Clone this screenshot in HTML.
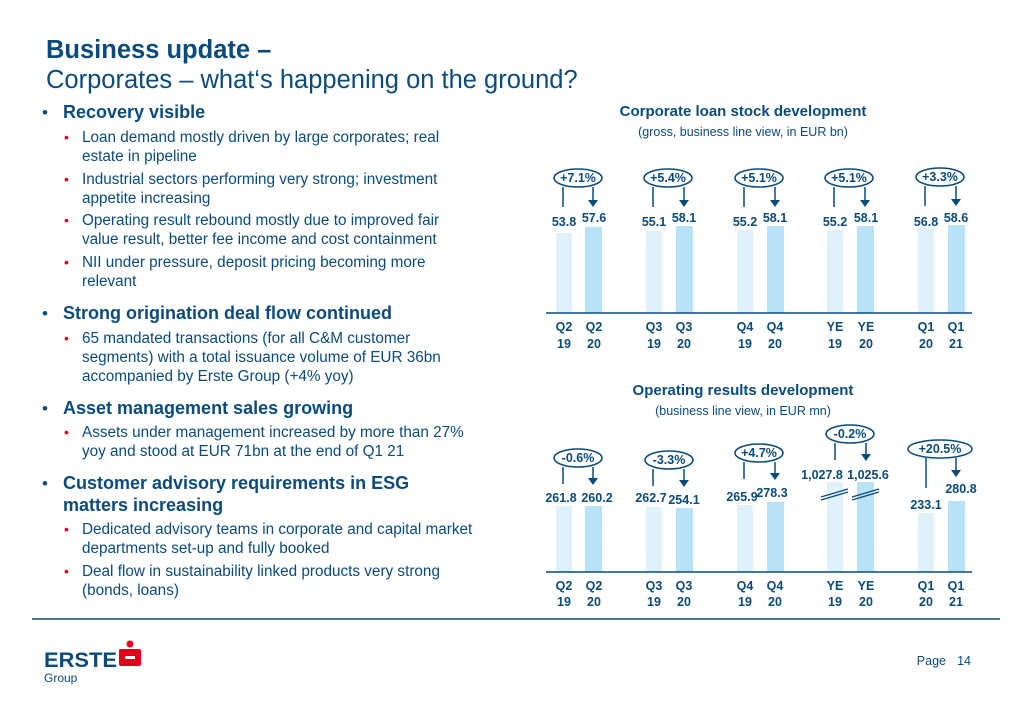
<!DOCTYPE html>
<html><head><meta charset="utf-8"><style>
body{margin:0;background:#fff}
svg{display:block;font-family:"Liberation Sans",Arial,sans-serif}
</style></head><body>
<svg width="1024" height="709" viewBox="0 0 1024 709" xmlns="http://www.w3.org/2000/svg">
<g fill="#0b4a7d">
<text x="46" y="58" font-size="25.5" font-weight="bold">Business update –</text>
<text x="46" y="88" font-size="25.5">Corporates – what‘s happening on the ground?</text>
<g font-size="18" font-weight="bold">
<text x="63" y="118">Recovery visible</text>
<text x="63" y="319">Strong origination deal flow continued</text>
<text x="63" y="414">Asset management sales growing</text>
<text x="63" y="489">Customer advisory requirements in ESG</text>
<text x="63" y="511">matters increasing</text>
</g>
<g font-size="17"><text x="42" y="118">•</text><text x="42" y="319">•</text><text x="42" y="414">•</text><text x="42" y="489">•</text></g>
<g font-size="15.3">
<text x="82" y="142">Loan demand mostly driven by large corporates; real</text>
<text x="82" y="161">estate in pipeline</text>
<text x="82" y="184">Industrial sectors performing very strong; investment</text>
<text x="82" y="203">appetite increasing</text>
<text x="82" y="225">Operating result rebound mostly due to improved fair</text>
<text x="82" y="244">value result, better fee income and cost containment</text>
<text x="82" y="267">NII under pressure, deposit pricing becoming more</text>
<text x="82" y="286">relevant</text>
<text x="82" y="343">65 mandated transactions (for all C&amp;M customer</text>
<text x="82" y="362">segments) with a total issuance volume of EUR 36bn</text>
<text x="82" y="381">accompanied by Erste Group (+4% yoy)</text>
<text x="82" y="437">Assets under management increased by more than 27%</text>
<text x="82" y="456">yoy and stood at EUR 71bn at the end of Q1 21</text>
<text x="82" y="534">Dedicated advisory teams in corporate and capital market</text>
<text x="82" y="553">departments set-up and fully booked</text>
<text x="82" y="576">Deal flow in sustainability linked products very strong</text>
<text x="82" y="595">(bonds, loans)</text>
</g>
</g>
<g fill="#e2001a" font-size="14"><text x="64" y="142">•</text><text x="64" y="184">•</text><text x="64" y="225">•</text><text x="64" y="267">•</text><text x="64" y="343">•</text><text x="64" y="437">•</text><text x="64" y="534">•</text><text x="64" y="576">•</text></g>

<g fill="#0b4a7d" text-anchor="middle">
<text x="743" y="116" font-size="15" font-weight="bold">Corporate loan stock development</text>
<text x="743" y="136" font-size="12.5">(gross, business line view, in EUR bn)</text>
<text x="743" y="395" font-size="15" font-weight="bold">Operating results development</text>
<text x="743" y="415" font-size="12.5">(business line view, in EUR mn)</text>
</g>

<g>
<rect x="556" y="233" width="16" height="80" fill="#dff1fb"/><rect x="585" y="227" width="17" height="86" fill="#b8e2f6"/>
<rect x="646" y="231" width="16" height="82" fill="#dff1fb"/><rect x="676" y="226" width="17" height="87" fill="#b8e2f6"/>
<rect x="737" y="230" width="16" height="83" fill="#dff1fb"/><rect x="767" y="226" width="17" height="87" fill="#b8e2f6"/>
<rect x="827" y="230" width="16" height="83" fill="#dff1fb"/><rect x="857" y="226" width="17" height="87" fill="#b8e2f6"/>
<rect x="918" y="228" width="16" height="85" fill="#dff1fb"/><rect x="948" y="225" width="17" height="88" fill="#b8e2f6"/>
<line x1="546" y1="313" x2="972" y2="313" stroke="#0b4a7d" stroke-width="1.5"/>
</g>
<g fill="#0b4a7d" font-size="12.5" font-weight="bold" text-anchor="middle">
<text x="564" y="226">53.8</text><text x="594" y="222">57.6</text>
<text x="654" y="226">55.1</text><text x="684" y="222">58.1</text>
<text x="745" y="226">55.2</text><text x="775" y="222">58.1</text>
<text x="835" y="226">55.2</text><text x="866" y="222">58.1</text>
<text x="926" y="226">56.8</text><text x="956" y="222">58.6</text>
<g font-size="12.5">
<text x="564" y="331">Q2</text><text x="594" y="331">Q2</text><text x="564" y="348">19</text><text x="594" y="348">20</text>
<text x="654" y="331">Q3</text><text x="684" y="331">Q3</text><text x="654" y="348">19</text><text x="684" y="348">20</text>
<text x="745" y="331">Q4</text><text x="775" y="331">Q4</text><text x="745" y="348">19</text><text x="775" y="348">20</text>
<text x="835" y="331">YE</text><text x="866" y="331">YE</text><text x="835" y="348">19</text><text x="866" y="348">20</text>
<text x="926" y="331">Q1</text><text x="956" y="331">Q1</text><text x="926" y="348">20</text><text x="956" y="348">21</text>
</g>
</g>
<g fill="none" stroke="#0b4a7d" stroke-width="1.5">
<ellipse cx="578" cy="178" rx="24" ry="9"/><ellipse cx="668" cy="178" rx="24" ry="9"/><ellipse cx="759" cy="178" rx="24" ry="9"/><ellipse cx="849" cy="178" rx="24" ry="9"/><ellipse cx="940" cy="177" rx="24" ry="9"/>
<path d="M563 187V207M593 187V200M653 187V207M684 187V200M744 187V207M775 187V200M834 187V207M865 187V200M925 186V206M956 186V199"/>
</g>
<g fill="#0b4a7d">
<path d="M588 200h10l-5 7zM679 200h10l-5 7zM770 200h10l-5 7zM860 200h10l-5 7zM951 199h10l-5 7z"/>
<g font-size="12.5" font-weight="bold" text-anchor="middle"><text x="578" y="182">+7.1%</text><text x="668" y="182">+5.4%</text><text x="759" y="182">+5.1%</text><text x="849" y="182">+5.1%</text><text x="940" y="181">+3.3%</text></g>
</g>

<g>
<rect x="556" y="506" width="16" height="66" fill="#dff1fb"/><rect x="585" y="506" width="17" height="66" fill="#b8e2f6"/>
<rect x="646" y="507" width="16" height="65" fill="#dff1fb"/><rect x="676" y="508" width="17" height="64" fill="#b8e2f6"/>
<rect x="737" y="505" width="16" height="67" fill="#dff1fb"/><rect x="767" y="502" width="17" height="70" fill="#b8e2f6"/>
<rect x="827" y="482" width="16" height="90" fill="#dff1fb"/><rect x="857" y="482" width="17" height="90" fill="#b8e2f6"/>
<rect x="918" y="513" width="16" height="59" fill="#dff1fb"/><rect x="948" y="501" width="17" height="71" fill="#b8e2f6"/>
<line x1="546" y1="572" x2="972" y2="572" stroke="#0b4a7d" stroke-width="1.5"/>
<path d="M821 497L848 489M821 500L848 492M852 497L879 489M852 500L879 492" stroke="#0b4a7d" stroke-width="1.2"/>
</g>
<g fill="#0b4a7d" font-size="12.5" font-weight="bold" text-anchor="middle">
<text x="561" y="502">261.8</text><text x="597" y="502">260.2</text>
<text x="651" y="502">262.7</text><text x="684" y="504">254.1</text>
<text x="742" y="501">265.9</text><text x="772" y="497">278.3</text>
<text x="822" y="479">1,027.8</text><text x="868" y="479">1,025.6</text>
<text x="926" y="509">233.1</text><text x="961" y="493">280.8</text>
<text x="564" y="590">Q2</text><text x="594" y="590">Q2</text><text x="564" y="606">19</text><text x="594" y="606">20</text>
<text x="654" y="590">Q3</text><text x="684" y="590">Q3</text><text x="654" y="606">19</text><text x="684" y="606">20</text>
<text x="745" y="590">Q4</text><text x="775" y="590">Q4</text><text x="745" y="606">19</text><text x="775" y="606">20</text>
<text x="835" y="590">YE</text><text x="866" y="590">YE</text><text x="835" y="606">19</text><text x="866" y="606">20</text>
<text x="926" y="590">Q1</text><text x="956" y="590">Q1</text><text x="926" y="606">20</text><text x="956" y="606">21</text>
</g>
<g fill="none" stroke="#0b4a7d" stroke-width="1.5">
<ellipse cx="578" cy="458" rx="24" ry="9"/><ellipse cx="669" cy="460" rx="24" ry="9"/><ellipse cx="759" cy="453" rx="24" ry="9"/><ellipse cx="850" cy="434" rx="24" ry="9"/><ellipse cx="940" cy="449" rx="32" ry="9"/>
<path d="M563 467V484M593 467V478M653 469V486M684 469V480M744 462V479M775 462V473M835 443V460M866 443V454M926 458V488M956 458V470"/>
</g>
<g fill="#0b4a7d">
<path d="M588 478h10l-5 7zM679 480h10l-5 7zM770 473h10l-5 7zM861 454h10l-5 7zM951 470h10l-5 7z"/>
<g font-size="12.5" font-weight="bold" text-anchor="middle"><text x="578" y="462">-0.6%</text><text x="669" y="464">-3.3%</text><text x="759" y="457">+4.7%</text><text x="850" y="438">-0.2%</text><text x="940" y="453">+20.5%</text></g>
</g>

<line x1="32" y1="619" x2="1000" y2="619" stroke="#0b4a7d" stroke-width="1.5"/>
<g font-weight="bold" fill="#0b4a7d"><text x="44" y="667" font-size="21" textLength="73" lengthAdjust="spacingAndGlyphs">ERSTE</text></g>
<text x="44" y="682" font-size="12" fill="#0b4a7d">Group</text>
<g fill="#e2001a"><circle cx="130" cy="644" r="3.5"/><rect x="119" y="649" width="22" height="7" rx="2"/><rect x="119" y="659" width="22" height="7" rx="2"/><rect x="119" y="653" width="6" height="8"/><rect x="135" y="654" width="6" height="8"/></g>
<text x="946" y="665" font-size="12.5" fill="#0b4a7d" text-anchor="end">Page</text>
<text x="971" y="665" font-size="12.5" fill="#0b4a7d" text-anchor="end">14</text>
</svg>
</body></html>
